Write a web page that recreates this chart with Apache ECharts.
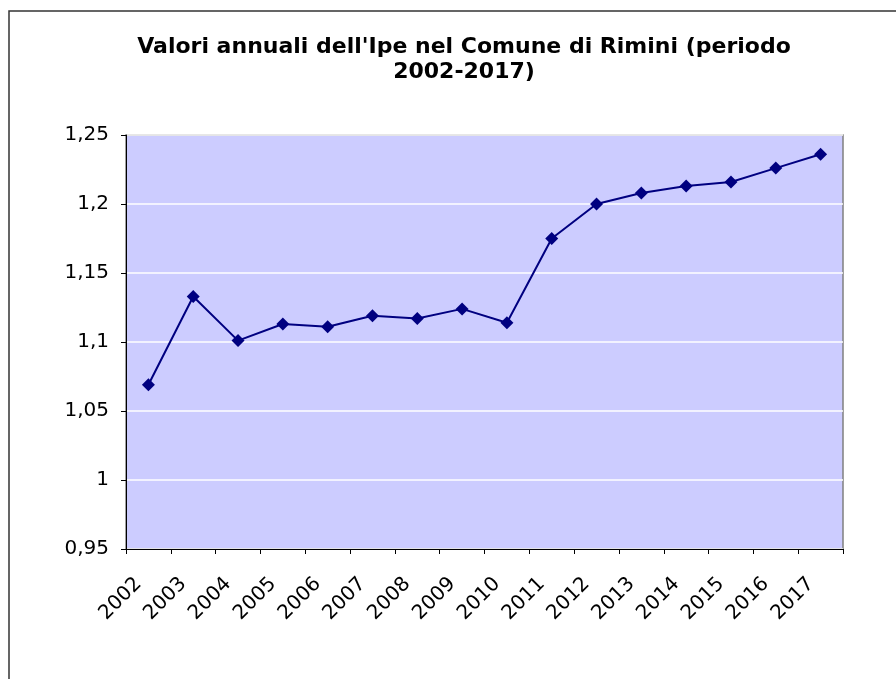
<!DOCTYPE html>
<html>
<head>
<meta charset="utf-8">
<script src="https://cdn.jsdelivr.net/npm/echarts@6/dist/echarts.min.js"></script>
<style>
  html, body { margin: 0; padding: 0; background: #fff; }
  #container { width: 896px; height: 679px; }
</style>
</head>
<body>
<div id="container"></div>
<script>
const years = ['2002', '2003', '2004', '2005', '2006', '2007', '2008', '2009',
	'2010', '2011', '2012', '2013', '2014', '2015', '2016', '2017'];
const ipeValues = [1.069, 1.133, 1.101, 1.113, 1.111, 1.119, 1.117, 1.124,
	1.114, 1.175, 1.2, 1.208, 1.213, 1.216, 1.226, 1.236];

const dom = document.getElementById('container');
const myChart = echarts.init(dom);

const labelFont = 'DejaVu Sans, Verdana, sans-serif';

const option = {
	animation: false,
	title: {
		text: "Valori annuali dell'Ipe nel Comune di Rimini (periodo\n2002-2017)",
		left: 459,
		top: 30,
		textAlign: 'center',
		textStyle: {
			fontFamily: labelFont,
			fontSize: 22,
			fontWeight: 'bold',
			color: '#000',
			lineHeight: 25,
		},
	},
	graphic: [
		{
			type: 'rect',
			shape: { x: 9, y: 11, width: 950, height: 750 },
			style: { fill: 'none', stroke: '#333', lineWidth: 1.5 },
			silent: true,
		},
	],
	grid: {
		left: 126,
		top: 135,
		right: 53,
		bottom: 130,
		show: true,
		backgroundColor: '#ccccff',
		borderColor: '#808080',
		borderWidth: 1.5,
	},
	xAxis: {
		type: 'category',
		boundaryGap: true,
		data: years,
		axisLine: { lineStyle: { color: '#000', width: 1 } },
		axisTick: { show: true, length: 5, alignWithLabel: false, lineStyle: { color: '#000' } },
		axisLabel: {
			rotate: 45,
			margin: 22,
			padding: [0, 14, 0, 0],
			interval: 0,
			color: '#000',
			fontFamily: labelFont,
			fontSize: 20,
		},
		splitLine: { show: false },
	},
	yAxis: {
		type: 'value',
		min: 0.95,
		max: 1.25,
		interval: 0.05,
		axisLine: { show: true, lineStyle: { color: '#000', width: 1 } },
		axisTick: { show: true, length: 5, lineStyle: { color: '#000' } },
		axisLabel: {
			margin: 17,
			color: '#000',
			fontFamily: labelFont,
			fontSize: 20,
			formatter: (val) => String(Math.round(val * 100) / 100).replace('.', ','),
		},
		splitLine: { show: true, lineStyle: { color: '#ffffff', width: 1.5 } },
	},
	series: [
		{
			type: 'line',
			data: ipeValues,
			symbol: 'diamond',
			symbolSize: 13,
			itemStyle: { color: '#000080' },
			lineStyle: { color: '#000080', width: 2 },
		},
	],
};

if (option && typeof option === 'object') {
	myChart.setOption(option);
}
</script>
</body>
</html>
